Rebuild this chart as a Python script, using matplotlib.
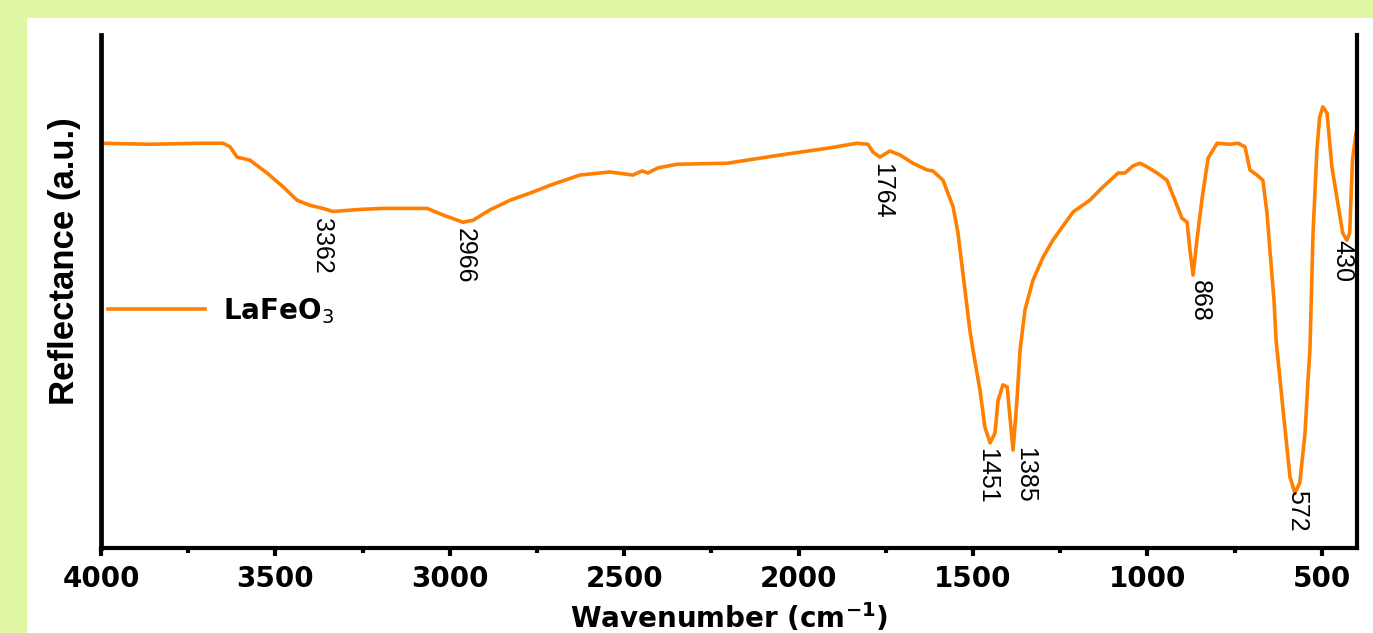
import numpy as np
import matplotlib
matplotlib.use('Agg')
import matplotlib.pyplot as plt
from matplotlib.patches import Rectangle
from matplotlib.ticker import MultipleLocator

# FTIR spectrum of LaFeO3 (reflectance, arbitrary units)
wavenumber = [4000, 3860, 3716, 3650, 3630, 3610, 3573, 3524, 3478, 3438,
              3401, 3364, 3335, 3257, 3192, 3065, 3019, 2962, 2933, 2885,
              2827, 2761, 2713, 2627, 2541, 2475, 2449, 2432, 2403, 2349,
              2205, 2053, 1910, 1833, 1801, 1787, 1767, 1738, 1709, 1672,
              1632, 1615, 1586, 1557, 1543, 1523, 1509, 1500, 1480, 1466,
              1451, 1437, 1428, 1414, 1402, 1394, 1385, 1374, 1365, 1351,
              1328, 1299, 1271, 1213, 1165, 1127, 1084, 1064, 1041, 1021,
              1001, 972, 944, 921, 901, 886, 878, 869, 858, 843,
              826, 800, 763, 740, 720, 706, 686, 669, 657, 648,
              637, 631, 611, 591, 577, 563, 548, 540, 534, 525,
              514, 506, 497, 485, 471, 454, 440, 428, 420, 412, 402]
reflectance = [78.9, 78.7, 78.9, 78.9, 78.2, 76.2, 75.6, 73.1, 70.4, 67.8,
               66.8, 66.2, 65.6, 66.0, 66.2, 66.2, 64.9, 63.5, 63.9, 65.9,
               67.8, 69.4, 70.7, 72.7, 73.3, 72.7, 73.5, 73.1, 74.1, 74.8,
               75.0, 76.6, 78.0, 78.9, 78.7, 77.2, 76.2, 77.4, 76.6, 75.0,
               73.7, 73.5, 71.7, 66.5, 61.4, 50.3, 42.5, 38.6, 30.8, 23.6,
               20.5, 22.4, 28.8, 31.8, 31.4, 25.5, 19.1, 28.8, 38.6, 46.4,
               52.2, 56.7, 60.0, 65.5, 67.8, 70.4, 73.1, 73.1, 74.5, 75.0,
               74.3, 73.1, 71.7, 67.8, 64.3, 63.5, 58.1, 53.2, 60.0, 68.2,
               76.0, 78.9, 78.7, 78.9, 78.2, 73.7, 72.7, 71.7, 65.3, 57.5,
               48.3, 40.5, 26.9, 13.8, 10.7, 12.7, 22.4, 32.2, 38.6, 61.4,
               77.6, 84.0, 86.0, 84.8, 74.3, 67.2, 61.4, 60.0, 61.4, 75.6, 80.9]

peak_labels = ['3362', '2966', '1764', '1451', '1385', '868', '572', '430']
# where each peak label is drawn (x in cm-1, top of text in a.u.)
label_x = [3366, 2956, 1761, 1460, 1351, 850, 571, 442]
label_y = [64.3, 62.4, 75.0, 19.5, 19.7, 52.2, 11.3, 60.0]

ORANGE = '#ff7f00'
BOLD_FONT = 'DejaVu Sans'
ARIAL = 'Liberation Sans'

fig = plt.figure(figsize=(13.73, 6.33), dpi=100, facecolor='#dff7a3')
# white panel behind the plot, leaving a green margin top and left
fig.patches.append(Rectangle((27 / 1373, 0), 1, 1 - 18 / 633,
                             transform=fig.transFigure, facecolor='white',
                             edgecolor='none', zorder=-5))

ax = fig.add_axes([101 / 1373, 1 - 548 / 633, 1256 / 1373, 513 / 633])
ax.set_facecolor('none')
ax.plot(wavenumber, reflectance, color=ORANGE, lw=2.6, label='LaFeO$_{3}$')

for txt, x, y in zip(peak_labels, label_x, label_y):
    ax.text(x, y, txt, rotation=270, ha='center', va='top',
            fontsize=18, family=ARIAL, color='black')

ax.set_xlim(4000, 399)
ax.set_ylim(0, 100)
ax.xaxis.set_major_locator(MultipleLocator(500))
ax.xaxis.set_minor_locator(MultipleLocator(250))
ax.set_yticks([])

ax.spines['top'].set_visible(False)
ax.spines['left'].set_linewidth(3.4)
ax.spines['bottom'].set_linewidth(3.0)
ax.spines['right'].set_linewidth(3.0)

ax.tick_params(axis='x', which='major', direction='out', length=6,
               width=3, pad=6)
ax.tick_params(axis='x', which='minor', direction='out', length=3.5, width=3)
for lab in ax.get_xticklabels():
    lab.set_fontfamily(BOLD_FONT)
    lab.set_fontweight('bold')
    lab.set_fontsize(20)

ax.set_xlabel('Wavenumber (cm$^{\\mathbf{-1}}$)', fontsize=20,
              fontweight='bold', family=BOLD_FONT)
ax.xaxis.set_label_coords(0.5, -0.103)
ax.set_ylabel('Reflectance (a.u.)', fontsize=25, fontweight='bold',
              family=ARIAL)
ax.yaxis.set_label_coords(-0.016, 0.559)

leg = ax.legend(loc='center left', bbox_to_anchor=(0.0056, 0.462),
                frameon=False, borderpad=0, borderaxespad=0,
                handlelength=3.5, handletextpad=0.65,
                prop={'family': BOLD_FONT, 'weight': 'bold', 'size': 20})

fig.savefig('out.png', dpi=100, facecolor=fig.get_facecolor())
